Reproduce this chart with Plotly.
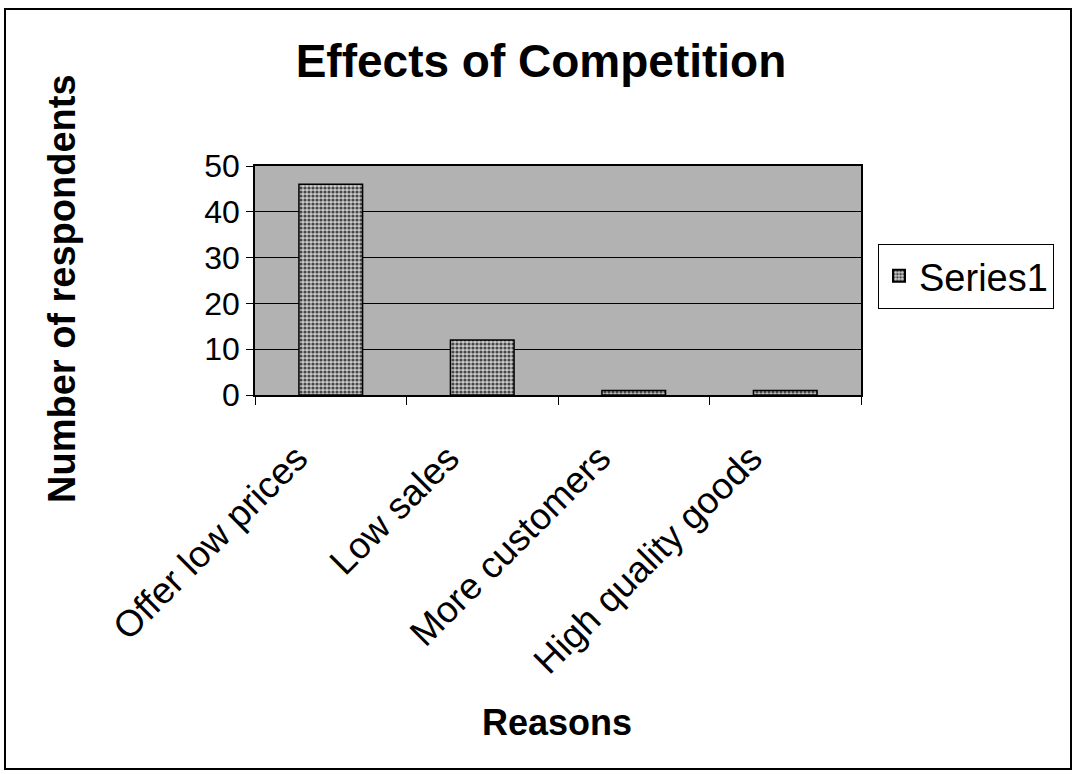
import plotly.graph_objects as go

# Survey results: effects of competition on businesses
reasons = ["Offer low prices", "Low sales", "More customers", "High quality goods"]
respondents = [46, 12, 1, 1]
series_name = "Series1"
y_ticks = [0, 10, 20, 30, 40, 50]

# plot-area geometry in pixels (1075 x 774 canvas)
W, H = 1075, 774
L, R, T, B = 255, 861, 166, 395


def px_x(x):
    return (x - L) / (R - L)


def px_y(y):
    return (B - y) / (B - T)


FONT = "Liberation Sans, Arial, sans-serif"

fig = go.Figure()
fig.add_trace(go.Bar(
    x=reasons,
    y=respondents,
    name=series_name,
    marker=dict(
        color="#a6a6a6",
        line=dict(color="black", width=1.5),
        pattern=dict(shape=".", fgcolor="#474747", bgcolor="#c9c9c9",
                     size=4, solidity=0.5, fillmode="replace"),
    ),
    showlegend=True,
))

fig.update_layout(
    width=W, height=H,
    margin=dict(l=L, r=W - R, t=T, b=H - B, autoexpand=False),
    paper_bgcolor="white",
    plot_bgcolor="#b2b2b2",
    bargap=0.58,
    font=dict(family=FONT, color="black"),
    title=dict(text="<b>Effects of Competition</b>", x=541 / W, xanchor="center",
               y=1 - 61 / H, yanchor="middle", font=dict(size=46, family=FONT)),
    showlegend=True,
    legend=dict(x=px_x(878), xanchor="left", y=px_y(276), yanchor="middle",
                bordercolor="black", borderwidth=1, bgcolor="white",
                font=dict(size=38, family=FONT), itemsizing="constant",
                tracegroupgap=0),
)

fig.update_xaxes(
    type="category",
    tickangle=-45,
    tickfont=dict(size=37, family=FONT),
    ticklabelshift=-34,
    ticklabelstandoff=25,
    ticks="outside", ticklen=8, tickcolor="black", tickwidth=1,
    tickson="boundaries",
    showline=True, linecolor="black", linewidth=1.5, mirror=True,
    showgrid=False,
)
fig.update_yaxes(
    range=[0, 50],
    tickvals=y_ticks,
    tickfont=dict(size=32, family=FONT),
    ticks="outside", ticklen=7, tickcolor="black", tickwidth=1,
    showline=True, linecolor="black", linewidth=1.5, mirror=True,
    showgrid=True, gridcolor="black", gridwidth=1,
    zeroline=False,
)

# axis titles
fig.add_annotation(text="<b>Number of respondents</b>", xref="paper", yref="paper",
                   x=px_x(62), y=px_y(288), textangle=-90, showarrow=False,
                   xanchor="center", yanchor="middle", font=dict(size=38, family=FONT))
fig.add_annotation(text="<b>Reasons</b>", xref="paper", yref="paper",
                   x=px_x(557), y=px_y(722), showarrow=False,
                   xanchor="center", yanchor="middle", font=dict(size=36, family=FONT))

# outer chart frame
fig.add_shape(type="rect", xref="paper", yref="paper",
              x0=px_x(5), x1=px_x(1071), y0=px_y(769), y1=px_y(9),
              line=dict(color="black", width=2), fillcolor="rgba(0,0,0,0)", layer="below")

fig.write_html("out.html")
